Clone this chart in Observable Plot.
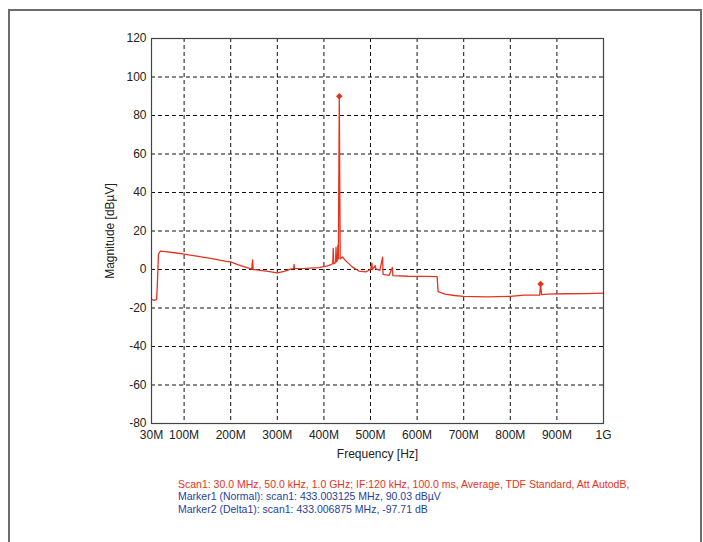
<!DOCTYPE html>
<html>
<head>
<meta charset="utf-8">
<script src="https://cdn.jsdelivr.net/npm/d3@7"></script>
<script src="https://cdn.jsdelivr.net/npm/@observablehq/plot@0.6"></script>
<style>
  html, body { margin: 0; padding: 0; background: #fff; }
  body { width: 703px; height: 542px; position: relative; overflow: hidden; font-family: "Liberation Sans", Arial, sans-serif; }
  #frame { position: absolute; left: 8px; top: 9px; width: 690px; height: 560px; border: 2px solid #6b6b6b; border-bottom: none; }
  #chart { position: absolute; left: 0; top: 0; }
  #caption { position: absolute; left: 178px; top: 478px; font-size: 10.5px; line-height: 12.3px; white-space: nowrap; }
  .red { color: #e8321e; }
  .blue { color: #1f3f9c; }
</style>
</head>
<body>
<div id="frame"></div>
<div id="chart"></div>
<div id="caption"></div>
<script>
// Frequency in MHz, level in dBµV
const freqMHz = [30, 36, 41, 43, 45, 49, 60, 80, 100, 130, 160, 190, 200, 215, 235, 245, 247, 248, 260, 280, 300, 315, 330, 335, 336, 337, 360, 390, 410, 419, 420, 421, 425, 426, 427, 429, 430, 431, 433, 435, 440, 445, 460, 475, 490, 500, 503, 504, 510, 511, 520, 526, 527, 540, 547, 548, 580, 620, 643, 645, 660, 680, 700, 750, 800, 830, 863, 865, 867, 880, 920, 960, 1000];
const levelDb = [-15.5, -16, -15.5, -5, 8, 9.5, 9.3, 8.7, 8.0, 6.8, 5.6, 4.2, 4.0, 2.5, 1.0, 0.2, 5, 0, -0.3, -1, -1.8, -1, 0.3, 0.5, 2.6, 0.5, 0.6, 1, 2, 3, 11, 3, 3.5, 11.5, 4, 5, 12.5, 5.5, 90, 5.5, 6.5, 5, 1.5, -0.8, -1.2, 0, 3.3, 0, 2, 0.5, -0.5, 6.4, -2.5, -3, 1, -3.2, -3.5, -3.6, -3.7, -11.5, -12.8, -13.5, -14, -14.2, -14, -13.3, -13.3, -7.5, -13, -12.8, -12.6, -12.5, -12.3];
const markerFreq = [433, 865];
const markerLevel = [90, -7.5];
const xTicks = [30, 100, 200, 300, 400, 500, 600, 700, 800, 900, 1000];
const xTickLabels = ["30M", "100M", "200M", "300M", "400M", "500M", "600M", "700M", "800M", "900M", "1G"];
const yTicks = [-80, -60, -40, -20, 0, 20, 40, 60, 80, 100, 120];
const gridX = [100, 200, 300, 400, 500, 600, 700, 800, 900];
const gridY = [-60, -40, -20, 0, 20, 40, 60, 80, 100];
const captionRed = "Scan1: 30.0 MHz, 50.0 kHz, 1.0 GHz; IF:120 kHz, 100.0 ms, Average, TDF Standard, Att AutodB,";
const captionBlue = ["Marker1 (Normal): scan1: 433.003125 MHz, 90.03 dBµV", "Marker2 (Delta1): scan1: 433.006875 MHz, -97.71 dB"];

const data = freqMHz.map((f, i) => ({f, v: levelDb[i]}));
const markers = markerFreq.map((f, i) => ({f, v: markerLevel[i]}));

const chart = Plot.plot({
  width: 703,
  height: 463,
  marginLeft: 151,
  marginRight: 100,
  marginTop: 38,
  marginBottom: 40,
  style: {fontFamily: "'Liberation Sans', Arial, sans-serif", fontSize: "12px", color: "#222", background: "transparent"},
  x: {domain: [30, 1000]},
  y: {domain: [-80, 120]},
  marks: [
    Plot.ruleX(gridX, {stroke: "#111", strokeDasharray: "4,3", strokeWidth: 1}),
    Plot.ruleY(gridY, {stroke: "#111", strokeDasharray: "4,3", strokeWidth: 1}),
    Plot.line(data, {x: "f", y: "v", stroke: "#e8321e", strokeWidth: 1.3, curve: "linear"}),
    Plot.dot(markers, {x: "f", y: "v", symbol: "diamond2", r: 2, stroke: "#e8321e", fill: "#e8321e"}),
    Plot.frame({stroke: "#444", strokeWidth: 1.2}),
    Plot.axisX(xTicks, {tickSize: 0, tickPadding: 7, tickFormat: (d) => xTickLabels[xTicks.indexOf(d)], label: "Frequency [Hz]", labelAnchor: "center", labelArrow: "none", labelOffset: 34}),
    Plot.axisY(yTicks, {tickSize: 0, tickPadding: 5, tickFormat: (d) => String(d), label: "Magnitude [dBµV]", labelAnchor: "center", labelArrow: "none", labelOffset: 46})
  ]
});
document.getElementById("chart").appendChild(chart);

const cap = document.getElementById("caption");
const r = document.createElement("div"); r.className = "red"; r.textContent = captionRed; cap.appendChild(r);
captionBlue.forEach(t => { const d = document.createElement("div"); d.className = "blue"; d.textContent = t; cap.appendChild(d); });
</script>
</body>
</html>
